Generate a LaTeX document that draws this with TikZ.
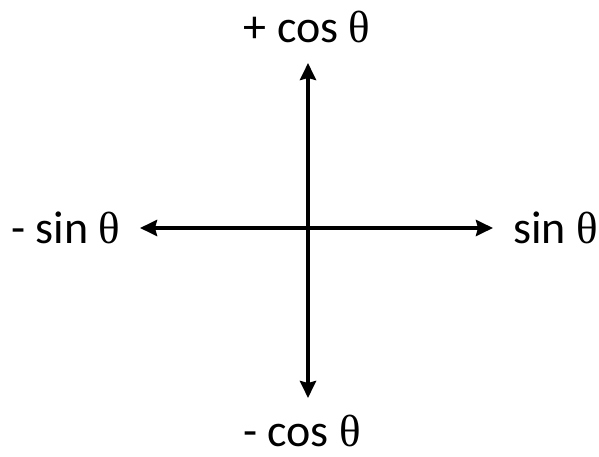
\documentclass[tikz,border=0pt]{standalone}
\usepackage{fontspec}
\setmainfont{Carlito}
\newfontfamily\thetafont{Liberation Serif}
\usetikzlibrary{arrows.meta}
\tikzset{
  axis/.style={line width=4.2pt, -{Stealth[length=17pt,width=16pt,inset=2pt]}},
  lbl/.style={inner sep=0pt, font=\fontsize{46}{50}\selectfont},
}
\newcommand{\thv}{{\thetafont\fontsize{45}{50}\selectfont θ}}
\begin{document}
\begin{tikzpicture}[x=1pt,y=-1pt]
\useasboundingbox (0,0) rectangle (599,457);
\coordinate (c) at (308,228);
\coordinate (t) at (308,63);
\coordinate (b) at (308,398);
\coordinate (l) at (140,228);
\coordinate (r) at (493,228);
\draw[axis] (c) -- (t);
\draw[axis] (c) -- (b);
\draw[axis] (c) -- (l);
\draw[axis] (c) -- (r);
\node[lbl, anchor=base] (tl) at (307,43) {+ cos \thv};
\node[lbl, anchor=base] (bl) at (302,446) {- cos \thv};
\node[lbl, anchor=base west] (ll) at (11,243) {- sin \thv};
\node[lbl, anchor=base east] (rl) at (598,243) {sin \thv};
\end{tikzpicture}
\end{document}
